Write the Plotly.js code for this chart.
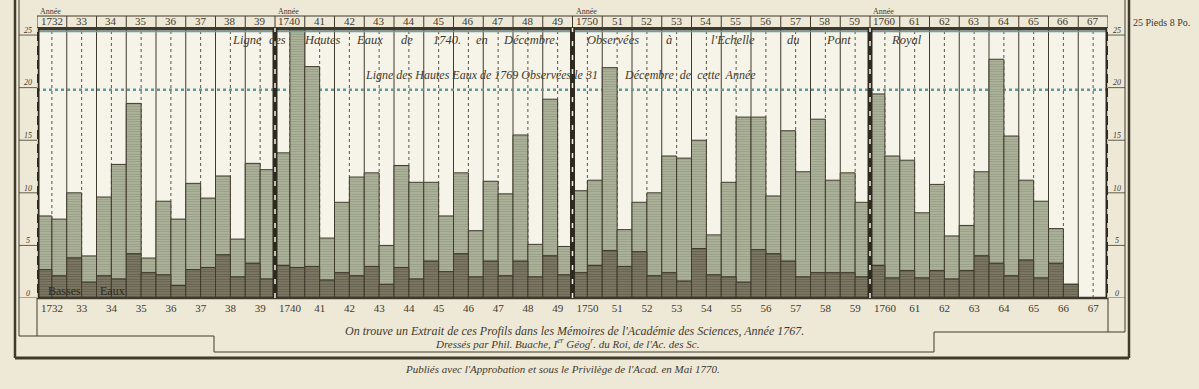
<!DOCTYPE html>
<html><head><meta charset="utf-8">
<script src="https://cdn.plot.ly/plotly-3.0.1.min.js"></script>
<style>html,body{margin:0;padding:0;background:#eee8d6;}#chart{width:1199px;height:389px;}</style>
</head><body><div id="chart"></div>
<script>
// ---- data (read from the engraving, in Paris feet at the Pont Royal gauge) ----
const years = ["1732","33","34","35","36","37","38","39","1740","41","42","43","44","45","46","47","48","49",
               "1750","51","52","53","54","55","56","57","58","59","1760","61","62","63","64","65","66","67"];
// first half of each year: top of high-water (green) and low-water (dark) sections
const highA = [7.8,10.0,9.6,18.5,9.2,10.9,11.6,12.8, 13.8,22.0,9.1,11.9,12.6,11.0,11.9,11.1,15.5,18.9,
               10.2,21.9,9.1,13.5,15.0,11.0,17.2,15.9,17.0,11.9, 19.4,13.1,10.8,6.9,22.7,11.2,6.6,null];
const lowA  = [2.7,3.8,2.1,4.2,2.2,2.7,4.1,3.3, 3.1,3.0,2.4,3.0,2.9,3.5,4.2,3.5,3.5,4.0,
               2.4,4.5,4.4,2.4,4.7,2.0,4.6,3.5,2.4,2.4, 3.1,2.6,2.6,2.6,3.3,3.6,3.3,null];
// second half of each year
const highB = [7.5,4.0,12.7,3.8,7.5,9.5,5.6,12.2, 25.6,5.7,11.5,5.0,11.0,7.8,6.4,9.9,5.1,4.9,
               11.2,6.5,10.0,13.3,6.0,17.2,9.7,12.0,11.2,9.1, 13.5,8.1,5.9,12.0,15.4,9.2,1.3,null];
const lowB  = [2.1,1.5,1.8,2.4,1.2,2.9,2.0,1.8, 2.9,1.7,2.1,1.3,1.8,2.5,2.0,2.1,2.0,2.2,
               3.1,3.0,2.1,1.6,2.2,1.5,4.2,2.0,2.4,2.0, 1.9,1.9,1.8,4.0,2.1,1.9,1.3,null];
const yTicks = [0,5,10,15,20,25];
const topLevel = 25.67;      // 25 Pieds 8 Po.
const level1769 = 19.8;      // Ligne des Hautes Eaux de 1769
const decades = [0,8,18,28,36];

// ---- geometry helpers (layout only) ----
const L=37, R=1108, T=28, B=298;
const px = x => (x-L)/(R-L);
const py = y => (B-y)/(B-T);

const xs=[], lows=[], highs=[];
years.forEach((y,i)=>{
  if(highA[i]!==null){xs.push(i+0.25); lows.push(lowA[i]); highs.push(highA[i]);}
  if(highB[i]!==null){xs.push(i+0.75); lows.push(lowB[i]); highs.push(highB[i]);}
});

const ink='#3f3a2c';
const traces=[
 {type:'bar', x:xs, y:highs.map((h,k)=>h-lows[k]), base:lows, width:0.5, hoverinfo:'skip',
  marker:{color:'#a9ae94', line:{color:ink,width:1},
   pattern:{shape:'-', fgcolor:'#8c907a', bgcolor:'#adb39a', size:2.5, solidity:0.25}}},
 {type:'bar', x:xs, y:lows, base:0, width:0.5, hoverinfo:'skip',
  marker:{color:'#77735f', line:{color:ink,width:1},
   pattern:{shape:'-', fgcolor:'#5e5a48', bgcolor:'#7c7864', size:2.5, solidity:0.3}}}
];

const shapes=[];
// year boundaries and half-year dotted lines
for(let i=0;i<=36;i++){
  shapes.push({type:'line', xref:'x', yref:'paper', x0:i, x1:i, y0:0, y1:py(16), line:{color:ink,width:1}, layer:'below'});
}
for(let i=0;i<36;i++){
  shapes.push({type:'line', xref:'x', yref:'paper', x0:i+0.5, x1:i+0.5, y0:0, y1:1, line:{color:'#5a5444',width:1,dash:'dot'}, layer:'below'});
}
// 1769 high water line (blue dotted)
shapes.push({type:'line', xref:'paper', yref:'y', x0:0, x1:1, y0:level1769, y1:level1769, line:{color:'#5d9a9c',width:2.5,dash:'dot'}, layer:'below'});
// top band 25 pieds 8 po
shapes.push({type:'rect', xref:'paper', yref:'paper', x0:0, x1:1, y0:py(30.5), y1:py(27), fillcolor:'#3d392c', line:{width:0}});
shapes.push({type:'line', xref:'paper', yref:'paper', x0:0, x1:1, y0:py(31.5), y1:py(31.5), line:{color:'#6aa3a6',width:1.5}});
// header box
shapes.push({type:'line', xref:'paper', yref:'paper', x0:0, x1:1, y0:py(16), y1:py(16), line:{color:ink,width:1}});
// bottom axis line
shapes.push({type:'line', xref:'paper', yref:'paper', x0:0, x1:1, y0:0, y1:0, line:{color:ink,width:2.5}});
// decade rulers
decades.forEach(d=>{
  shapes.push({type:'line', xref:'x', yref:'paper', x0:d, x1:d, y0:0, y1:1, line:{color:'#2e2a20',width:5}});
  shapes.push({type:'line', xref:'x', yref:'paper', x0:d, x1:d, y0:0, y1:1, line:{color:'#f3efe2',width:1.5,dash:'5px,9px'}});
});
// frame
const fr=(x0,y0,x1,y1,w)=>shapes.push({type:'line', xref:'paper', yref:'paper', x0:px(x0), x1:px(x1), y0:py(y0), y1:py(y1), line:{color:ink,width:w}});
fr(15,0,15,358,2.5); fr(15,358,1129,358,3); fr(1129,0,1129,358,2.5);
fr(19,0,19,336,1); fr(1125,0,1125,332,1);
fr(37,298,37,336,1); fr(1108,298,1108,332,1);
fr(19,336,214,336,1); fr(214,336,214,352,1); fr(214,352,934,352,1);
fr(934,352,934,332,1); fr(934,332,1125,332,1);
// left/right label columns
yTicks.forEach(v=>{
  shapes.push({type:'line', xref:'paper', yref:'y', x0:px(19), x1:px(37), y0:v, y1:v, line:{color:ink,width:0.8}});
  shapes.push({type:'line', xref:'paper', yref:'y', x0:px(1108), x1:px(1125), y0:v, y1:v, line:{color:ink,width:0.8}});
});

const serif='Liberation Serif, DejaVu Serif, serif';
const ann=[];
const A=o=>ann.push(Object.assign({xref:'paper', yref:'paper', showarrow:false, xanchor:'center', yanchor:'middle'}, o));
// header year labels
years.forEach((y,i)=>A({xref:'x', x:i+0.5, y:py(21.5), text:y, font:{family:serif,size:11,color:ink}}));
// "Année" above each decade start
[0,8,18,28].forEach(d=>A({xref:'x', x:d+0.05, y:py(11.5), xanchor:'left', text:'Année', font:{family:serif,size:8,color:ink}}));
// axis labels
yTicks.forEach(v=>{
  A({yref:'y', x:px(28), y:v+0.45, text:String(v), font:{family:serif,size:8,color:ink,style:'italic'}});
  A({yref:'y', x:px(1117), y:v+0.45, text:String(v), font:{family:serif,size:8,color:ink,style:'italic'}});
});
A({x:px(1131), y:py(22), xanchor:'left', text:'25 Pieds 8 Po.', font:{family:serif,size:10,color:ink}});
// words of the 1740 line
const w1740=[['Ligne',247],['des',277],['Hautes',322],['Eaux',369],['de',407],['1740.',447],['en',482],['Décembre.',530],
             ['Observées',613],['à',669],["l'Echelle",733],['du',793],['Pont',838],['Royal',906]];
w1740.forEach(w=>A({x:px(w[1]), y:py(40), text:w[0], font:{family:serif,size:12.5,color:ink,style:'italic'}}));
A({x:px(481), y:py(75), text:'Ligne des Hautes Eaux de 1769 Observées le 31', font:{family:serif,size:12,color:ink,style:'italic'}});
A({x:px(690), y:py(75), text:'Décembre  de  cette  Année', font:{family:serif,size:12,color:ink,style:'italic'}});
A({x:px(64), y:py(291), text:'Basses', font:{family:serif,size:12,color:'#2e2a20'}});
A({x:px(112), y:py(291), text:'Eaux', font:{family:serif,size:12,color:'#2e2a20'}});
// footer
A({x:px(574), y:py(331), text:"On trouve un Extrait de ces Profils dans les Mémoires de l'Académie des Sciences, Année 1767.", font:{family:serif,size:12,color:ink,style:'italic'}});
A({x:px(567), y:py(343), text:"Dressés par Phil. Buache, I<sup>er</sup> Géog<sup>r</sup>. du Roi, de l'Ac. des Sc.", font:{family:serif,size:11,color:ink,style:'italic'}});
A({x:px(562), y:py(369), text:"Publiés avec l'Approbation et sous le Privilège de l'Acad. en Mai 1770.", font:{family:serif,size:11,color:ink,style:'italic'}});

const layout={
  width:1199, height:389, margin:{l:L, r:1199-R, t:T, b:389-B},
  paper_bgcolor:'#eee8d6', plot_bgcolor:'#f6f3e8', showlegend:false, barmode:'overlay',
  xaxis:{range:[0,36], showgrid:false, zeroline:false, showline:false, fixedrange:true,
         tickvals:years.map((_,i)=>i+0.5), ticktext:years, ticks:'', ticklabelstandoff:2,
         tickfont:{family:serif,size:11,color:ink}},
  yaxis:{range:[0,topLevel], showgrid:false, zeroline:false, showline:false, showticklabels:false, fixedrange:true},
  shapes:shapes, annotations:ann
};
Plotly.newPlot('chart', traces, layout, {staticPlot:true});
</script></body></html>
